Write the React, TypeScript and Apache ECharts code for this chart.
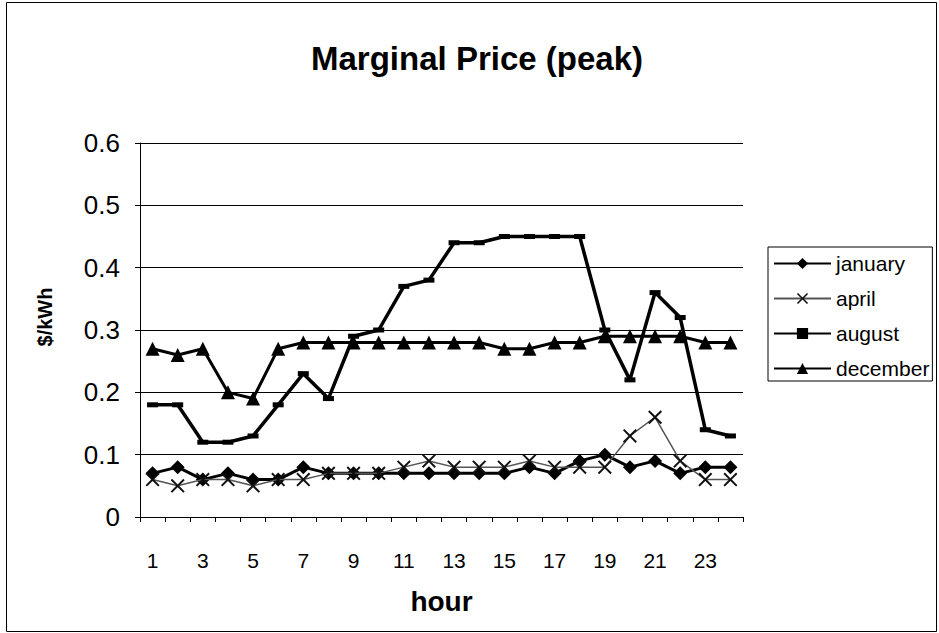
import React, { useEffect, useRef } from "react";
import * as echarts from "echarts";

const hours = ["1","2","3","4","5","6","7","8","9","10","11","12","13","14","15","16","17","18","19","20","21","22","23","24"];
const january = [0.07,0.08,0.06,0.07,0.06,0.06,0.08,0.07,0.07,0.07,0.07,0.07,0.07,0.07,0.07,0.08,0.07,0.09,0.10,0.08,0.09,0.07,0.08,0.08];
const april = [0.06,0.05,0.06,0.06,0.05,0.06,0.06,0.07,0.07,0.07,0.08,0.09,0.08,0.08,0.08,0.09,0.08,0.08,0.08,0.13,0.16,0.09,0.06,0.06];
const august = [0.18,0.18,0.12,0.12,0.13,0.18,0.23,0.19,0.29,0.30,0.37,0.38,0.44,0.44,0.45,0.45,0.45,0.45,0.30,0.22,0.36,0.32,0.14,0.13];
const december = [0.27,0.26,0.27,0.20,0.19,0.27,0.28,0.28,0.28,0.28,0.28,0.28,0.28,0.28,0.27,0.27,0.28,0.28,0.29,0.29,0.29,0.29,0.28,0.28];

const FONT = "'Liberation Sans', Arial, Helvetica, sans-serif";
const X_SYMBOL = "path://M0,1 L1,0 L5,4 L9,0 L10,1 L6,5 L10,9 L9,10 L5,6 L1,10 L0,9 L4,5 Z";

export default function App() {
  const ref = useRef<HTMLDivElement>(null);
  useEffect(() => {
    if (!ref.current) return;
    const chart = echarts.init(ref.current, null, { renderer: "svg" });
    chart.setOption({
      animation: false,
      backgroundColor: "#fff",
      textStyle: { fontFamily: FONT, color: "#000" },
      title: {
        text: "Marginal Price (peak)",
        left: 472,
        top: 37,
        textAlign: "center",
        textStyle: { fontFamily: FONT, fontSize: 33, fontWeight: "bold", color: "#000" },
      },
      graphic: [
        {
          type: "rect",
          shape: { x: 6.5, y: 2.5, width: 930, height: 629 },
          style: { fill: "none", stroke: "#000", lineWidth: 1 },
          silent: true,
        },
        {
          type: "text",
          x: 45,
          y: 317,
          rotation: Math.PI / 2,
          style: {
            text: "$/kWh",
            fontFamily: FONT,
            fontSize: 20,
            fontWeight: "bold",
            fill: "#000",
            align: "center",
            verticalAlign: "middle",
          },
        },
      ],
      legend: {
        orient: "vertical",
        left: 768,
        top: 247,
        padding: [6, 3, 2, 5],
        borderColor: "#000",
        borderWidth: 1,
        itemWidth: 57,
        itemHeight: 14,
        itemGap: 14,
        textStyle: { fontFamily: FONT, fontSize: 21, color: "#000" },
        data: ["january", "april", "august", "december"],
      },
      grid: { left: 140, right: 196, top: 143, bottom: 116, containLabel: false },
      xAxis: {
        type: "category",
        data: hours,
        boundaryGap: true,
        name: "hour",
        nameLocation: "middle",
        nameGap: 70,
        nameTextStyle: { fontFamily: FONT, fontSize: 28, fontWeight: "bold", color: "#000" },
        axisLine: { lineStyle: { color: "#000", width: 1 } },
        axisTick: { show: true, interval: 0, length: 5, lineStyle: { color: "#000" } },
        axisLabel: { interval: 1, margin: 33, fontFamily: FONT, fontSize: 21, color: "#000" },
        splitLine: { show: false },
      },
      yAxis: {
        type: "value",
        min: 0,
        max: 0.6,
        interval: 0.1,
        axisLine: { show: true, lineStyle: { color: "#000", width: 1 } },
        axisTick: { show: true, length: 5, lineStyle: { color: "#000" } },
        axisLabel: { margin: 20, fontFamily: FONT, fontSize: 26, color: "#000" },
        splitLine: { show: true, lineStyle: { color: "#000", width: 1 } },
      },
      series: [
        {
          name: "january",
          type: "line",
          data: january,
          symbol: "diamond",
          symbolSize: 14,
          lineStyle: { color: "#000", width: 3 },
          itemStyle: { color: "#000" },
          z: 4,
        },
        {
          name: "april",
          type: "line",
          data: april,
          symbol: X_SYMBOL,
          symbolSize: 14,
          lineStyle: { color: "#555", width: 1.5 },
          itemStyle: { color: "#111" },
          z: 5,
        },
        {
          name: "august",
          type: "line",
          data: august,
          symbol: "rect",
          symbolSize: [11, 5],
          lineStyle: { color: "#000", width: 3.5 },
          itemStyle: { color: "#000" },
          z: 3,
        },
        {
          name: "december",
          type: "line",
          data: december,
          symbol: "triangle",
          symbolSize: 14,
          lineStyle: { color: "#000", width: 3 },
          itemStyle: { color: "#000" },
          z: 3,
        },
      ],
    });
    return () => chart.dispose();
  }, []);
  return (
    <div
      ref={ref}
      style={{ position: "fixed", left: 0, top: 0, width: 939, height: 633 }}
    />
  );
}
